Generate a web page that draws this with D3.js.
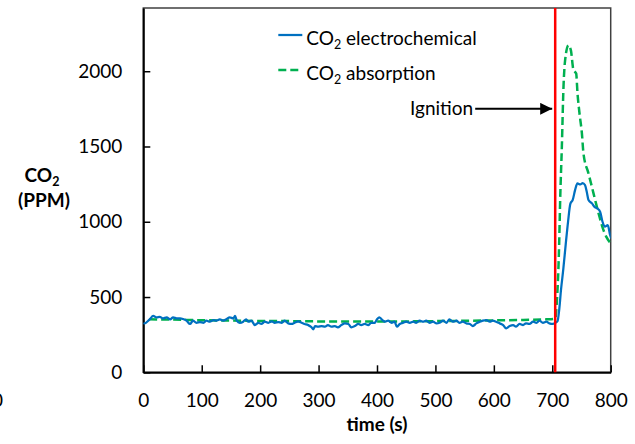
<!DOCTYPE html>
<html>
<head>
<meta charset="utf-8">
<script src="https://cdn.jsdelivr.net/npm/d3@7"></script>
<style>
  body { margin: 0; background: #fff; }
  svg { display: block; font-family: Lato, "Open Sans", sans-serif; }
</style>
</head>
<body>
<div id="chart"></div>
<script>
// CO2 electrochemical sensor, [time (s), ppm]
const elecSeries = [
  [0,329],[2,325],[11,352],[17,374],[23,365],[28,369],[34,358],[40,365],[46,352],[51,365],
  [57,358],[63,358],[68,354],[74,343],[80,321],[85,343],[91,329],[97,334],[103,329],[108,343],
  [114,336],[120,347],[125,343],[131,352],[137,343],[142,352],[148,365],[154,358],[157,374],[160,343],
  [165,329],[171,336],[176,352],[180,336],[185,343],[191,314],[197,329],[202,321],[208,336],[214,329],
  [220,338],[225,329],[231,334],[237,329],[242,343],[248,325],[254,321],[259,329],[265,338],[271,329],
  [276,321],[282,314],[288,299],[291,285],[294,307],[299,303],[305,307],[311,303],[316,314],[322,303],
  [328,307],[333,299],[339,314],[345,325],[351,321],[356,299],[362,307],[368,321],[373,314],[379,321],
  [385,314],[390,329],[396,329],[400,352],[404,365],[408,352],[413,336],[419,343],[425,329],[430,336],
  [434,303],[439,321],[445,329],[450,336],[456,329],[462,336],[467,329],[473,343],[479,336],[484,343],
  [490,329],[496,336],[502,325],[507,329],[513,343],[519,329],[524,352],[530,336],[536,343],[541,329],
  [547,336],[553,325],[559,321],[564,307],[570,325],[576,336],[581,343],[587,347],[593,336],[598,343],
  [604,336],[610,325],[616,314],[621,292],[627,307],[633,314],[638,303],[644,321],[650,314],[655,325],
  [661,321],[667,336],[673,329],[678,343],[684,329],[690,336],[695,325],[701,321],[705,329],
  [709,340],[712,420],[715,550],[719,690],[723,850],[727,1000],[731,1120],[735,1145],[739,1210],
  [743,1255],[748,1248],[752,1257],[756,1244],[759,1200],[762,1144],[768,1122],[772,1100],[777,1089],
  [782,1066],[786,1000],[790,967],[795,978],[799,912],[801,890]
];

// CO2 absorption sensor, [time (s), ppm]
const absSeries = [
  [10,352],[50,350],[100,346],[150,344],[200,341],[250,340],[300,338],[350,337],[400,337],[450,338],
  [500,340],[550,342],[600,345],[650,348],[690,352],[705,356],[708,480],[710.6,701],[711.8,857],
  [713.5,1144],[716.4,1500],[719.2,1896],[722,2074],[727.7,2173],[731.8,2140],[736.3,2007],
  [740.9,1985],[743.2,1853],[746.6,1720],[750.7,1587],[753.4,1454],[762,1321],[767.8,1232],
  [773.4,1144],[780.8,1033],[786.6,956],[792.3,901],[799.1,861],[801,852]
];

const xTicks = [0, 100, 200, 300, 400, 500, 600, 700, 800];
const yTicks = [0, 500, 1000, 1500, 2000];
const ignitionTime = 705;
const ignitionLabelPpm = 1750;
const legendNames = ["electrochemical", "absorption"];

const W = 635, H = 444;
const margin = {top: 8, right: 24.3, bottom: 71.7, left: 143.3};
const width = W - margin.left - margin.right;
const height = H - margin.top - margin.bottom;
const fontSize = 19;

const svg = d3.select("#chart").append("svg")
  .attr("width", W).attr("height", H);

const g = svg.append("g")
  .attr("transform", `translate(${margin.left},${margin.top})`);

const x = d3.scaleLinear().domain([0, 800]).range([0, width]);
const y = d3.scaleLinear().domain([0, 2420]).range([height, 0]);

// plot area frame
g.append("rect")
  .attr("width", width).attr("height", height)
  .attr("fill", "none").attr("stroke", "#404040").attr("stroke-width", 1.5);

svg.append("defs").append("clipPath").attr("id", "clip")
  .append("rect").attr("width", width).attr("height", height);

// axes with inward ticks
const xAxis = g.append("g")
  .attr("transform", `translate(0,${height})`)
  .call(d3.axisBottom(x).tickValues(xTicks).tickFormat(d3.format("d"))
    .tickSize(-7).tickSizeOuter(0));
const yAxis = g.append("g")
  .call(d3.axisLeft(y).tickValues(yTicks).tickFormat(d3.format("d"))
    .tickSize(-7).tickSizeOuter(0));

[xAxis, yAxis].forEach(a => {
  a.select(".domain").attr("stroke", "#000").attr("stroke-width", 2);
  a.selectAll(".tick line").attr("stroke", "#000").attr("stroke-width", 1.5);
  a.selectAll("text").attr("font-size", fontSize).attr("fill", "#000")
    .style("font-family", "Lato, sans-serif");
});
xAxis.selectAll("text").attr("dy", "0.71em").attr("y", 21);
yAxis.selectAll("text").attr("x", -21);

const line = d3.line()
  .x(d => x(d[0]))
  .y(d => y(d[1]))
  .curve(d3.curveMonotoneX);

const plot = g.append("g").attr("clip-path", "url(#clip)");

plot.append("path")
  .datum(absSeries)
  .attr("fill", "none")
  .attr("stroke", "#00b050")
  .attr("stroke-width", 2.5)
  .attr("stroke-dasharray", "8,4")
  .attr("d", line);

plot.append("path")
  .datum(elecSeries)
  .attr("fill", "none")
  .attr("stroke", "#0070c0")
  .attr("stroke-width", 2.25)
  .attr("d", line);

// ignition marker
g.append("line")
  .attr("x1", x(ignitionTime)).attr("x2", x(ignitionTime))
  .attr("y1", 0).attr("y2", height)
  .attr("stroke", "#ff0000").attr("stroke-width", 2.5);

svg.append("defs").append("marker")
  .attr("id", "arrow")
  .attr("viewBox", "0 0 10 10")
  .attr("refX", 10).attr("refY", 5)
  .attr("markerWidth", 6.5).attr("markerHeight", 6)
  .attr("markerUnits", "strokeWidth")
  .attr("orient", "auto")
  .append("path").attr("d", "M0,0L10,5L0,10Z").attr("fill", "#000");

const ay = y(ignitionLabelPpm);
g.append("line")
  .attr("x1", x(ignitionTime) - 80).attr("x2", x(ignitionTime) - 3)
  .attr("y1", ay).attr("y2", ay)
  .attr("stroke", "#000").attr("stroke-width", 2)
  .attr("marker-end", "url(#arrow)");

g.append("text")
  .attr("x", x(ignitionTime) - 82).attr("y", ay + 6.5)
  .attr("text-anchor", "end")
  .attr("font-size", fontSize)
  .text("Ignition");

// legend
const legend = g.append("g").attr("transform", "translate(135,27)");
legendNames.forEach((name, i) => {
  const row = legend.append("g").attr("transform", `translate(0,${i * 35})`);
  row.append("line")
    .attr("x1", 0).attr("x2", 24)
    .attr("stroke", i === 0 ? "#0070c0" : "#00b050")
    .attr("stroke-width", i === 0 ? 2.25 : 2.5)
    .attr("stroke-dasharray", i === 0 ? null : "8,4");
  const t = row.append("text")
    .attr("x", 28).attr("y", 10)
    .attr("font-size", fontSize);
  t.append("tspan").text("CO");
  t.append("tspan").attr("font-size", 12.5).attr("dy", 4).text("2");
  t.append("tspan").attr("dy", -4).text(" " + name);
});

// axis titles
const yTitle = svg.append("text")
  .attr("text-anchor", "middle")
  .attr("font-weight", "bold")
  .attr("font-size", fontSize);
yTitle.append("tspan").attr("x", 42).attr("y", 181.7).text("CO");
yTitle.append("tspan").attr("font-size", 12.5).attr("dy", 4).text("2");
svg.append("text")
  .attr("x", 44).attr("y", 206.7)
  .attr("text-anchor", "middle")
  .attr("font-weight", "bold")
  .attr("font-size", fontSize)
  .text("(PPM)");

svg.append("text")
  .attr("x", margin.left + width / 2).attr("y", 430.5)
  .attr("text-anchor", "middle")
  .attr("font-weight", "bold")
  .attr("font-size", fontSize)
  .text("time (s)");

// clipped label of a neighbouring chart at the left edge
svg.append("text")
  .attr("x", 3).attr("y", 406.7)
  .attr("text-anchor", "end")
  .attr("font-size", fontSize)
  .text("0");
</script>
</body>
</html>
